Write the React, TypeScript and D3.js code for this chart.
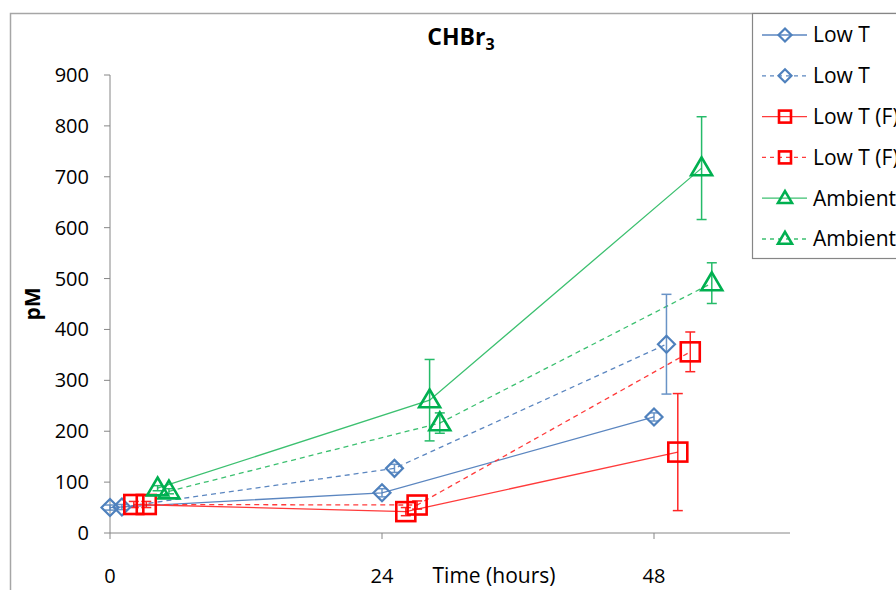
import React from "react";
import * as d3 from "d3";

const W = 896;
const H = 590;

const title = "CHBr";
const titleSub = "3";
const yLabel = "pM";
const xLabel = "Time (hours)";
const xTicks = [0, 24, 48];
const yTicks = [0, 100, 200, 300, 400, 500, 600, 700, 800, 900];

const seriesNames = ["Low T", "Low T", "Low T (F)", "Low T (F)", "Ambient", "Ambient"];
const seriesColors = ["#4F81BD", "#4F81BD", "#FF0000", "#FF0000", "#00B050", "#00B050"];
const lineColors = ["#5B86C0", "#5B86C0", "#FF3B3B", "#FF3B3B", "#3CC070", "#3CC070"];
const seriesDashed = [false, true, false, true, false, true];
const seriesMarkers = ["diamond", "diamond", "square", "square", "triangle", "triangle"];

const xLowT = [0, 24, 48];
const yLowT = [50, 79, 228];
const eLowT = [5, 8, 8];

const xLowTDash = [1.05, 25.1, 49.1];
const yLowTDash = [51, 127, 371];
const eLowTDash = [5, 8, 98];

const xLowTF = [2.1, 26.1, 50.1];
const yLowTF = [56, 42, 159];
const eLowTF = [6, 8, 115];

const xLowTFDash = [3.2, 27.1, 51.2];
const yLowTFDash = [56, 55, 356];
const eLowTFDash = [6, 8, 39];

const xAmb = [4.2, 28.2, 52.2];
const yAmb = [88, 261, 717];
const eAmb = [5, 80, 101];

const xAmbDash = [5.2, 29.1, 53.1];
const yAmbDash = [82, 216, 491];
const eAmbDash = [5, 20, 40];

const seriesX = [xLowT, xLowTDash, xLowTF, xLowTFDash, xAmb, xAmbDash];
const seriesY = [yLowT, yLowTDash, yLowTF, yLowTFDash, yAmb, yAmbDash];
const seriesE = [eLowT, eLowTDash, eLowTF, eLowTFDash, eAmb, eAmbDash];

const FONT = "'Open Sans', Lato, sans-serif";

function Marker({ type, x, y, color, size }: { type: string; x: number; y: number; color: string; size: number }) {
  if (type === "diamond") {
    const r = size / 2;
    return (
      <path
        d={`M${x},${y - r}L${x + r},${y}L${x},${y + r}L${x - r},${y}Z`}
        fill="none"
        stroke={color}
        strokeWidth={2.2}
      />
    );
  }
  if (type === "square") {
    const s = size;
    return <rect x={x - s / 2} y={y - s / 2} width={s} height={s} fill="none" stroke={color} strokeWidth={2.6} />;
  }
  const w = size;
  const h = size * 0.85;
  return (
    <path
      d={`M${x},${y - h * 0.6}L${x + w / 2},${y + h * 0.4}L${x - w / 2},${y + h * 0.4}Z`}
      fill="none"
      stroke={color}
      strokeWidth={2.6}
    />
  );
}

export default function App() {
  const x = d3.scaleLinear().domain([0, 60]).range([110, 790]);
  const y = d3.scaleLinear().domain([0, 900]).range([533, 75]);
  const line = d3
    .line<[number, number]>()
    .x((d) => x(d[0]))
    .y((d) => y(d[1]));

  const markerSize = (t: string) => (t === "diamond" ? 17 : t === "square" ? 19 : 21);
  const legendMarkerSize = (t: string) => (t === "diamond" ? 13 : t === "square" ? 12 : 14);

  return (
    <svg
      width={W}
      height={H}
      style={{ position: "absolute", left: 0, top: 0, background: "#fff" }}
      fontFamily={FONT}
    >
      <rect x={0} y={0} width={W} height={H} fill="#fff" />
      {/* outer chart border */}
      <path d={`M10.5,${H}L10.5,13.5L${W},13.5`} fill="none" stroke="#A6A6A6" strokeWidth={1.5} />

      {/* title */}
      <text x={461} y={45} fontSize={23} fontWeight="bold" textAnchor="middle" fill="#000">
        {title}
        <tspan fontSize={16} dy={5}>
          {titleSub}
        </tspan>
      </text>

      {/* y axis */}
      <line x1={110} x2={110} y1={y(900)} y2={y(0)} stroke="#868686" strokeWidth={1} />
      {yTicks.map((t) => (
        <g key={t}>
          <line x1={104} x2={110} y1={y(t)} y2={y(t)} stroke="#868686" />
          <text x={89} y={y(t)} dy="0.35em" textAnchor="end" fontSize={20} fill="#000">
            {t}
          </text>
        </g>
      ))}
      <text
        transform={`translate(40,${(y(0) + y(900)) / 2}) rotate(-90)`}
        textAnchor="middle"
        fontSize={21}
        fontWeight="bold"
        fill="#000"
      >
        {yLabel}
      </text>

      {/* x axis */}
      <line x1={110} x2={790} y1={y(0)} y2={y(0)} stroke="#868686" strokeWidth={1} />
      {xTicks.map((t) => (
        <g key={t}>
          <line x1={x(t)} x2={x(t)} y1={y(0)} y2={y(0) + 6} stroke="#868686" />
          <text x={x(t)} y={583} textAnchor="middle" fontSize={20} fill="#000">
            {t}
          </text>
        </g>
      ))}
      <text x={494} y={583} textAnchor="middle" fontSize={21} fill="#000">
        {xLabel}
      </text>

      {/* lines */}
      {seriesX.map((xs, i) => {
        const pts: [number, number][] = xs.map((v, j) => [v, seriesY[i][j]]);
        return (
          <path
            key={"l" + i}
            d={line(pts) || ""}
            fill="none"
            stroke={lineColors[i]}
            strokeWidth={1.3}
            strokeDasharray={seriesDashed[i] ? "5,4" : undefined}
          />
        );
      })}

      {/* error bars */}
      {seriesX.map((xs, i) =>
        xs.map((v, j) => {
          const cx = x(v);
          const top = y(seriesY[i][j] + seriesE[i][j]);
          const bot = y(seriesY[i][j] - seriesE[i][j]);
          return (
            <g key={`e${i}-${j}`} stroke={seriesColors[i]} strokeWidth={1.5} opacity={0.85}>
              <line x1={cx} x2={cx} y1={top} y2={bot} />
              <line x1={cx - 5} x2={cx + 5} y1={top} y2={top} />
              <line x1={cx - 5} x2={cx + 5} y1={bot} y2={bot} />
            </g>
          );
        })
      )}

      {/* markers */}
      {seriesX.map((xs, i) =>
        xs.map((v, j) => (
          <Marker
            key={`m${i}-${j}`}
            type={seriesMarkers[i]}
            x={x(v)}
            y={y(seriesY[i][j])}
            color={seriesColors[i]}
            size={markerSize(seriesMarkers[i])}
          />
        ))
      )}

      {/* legend */}
      <rect x={752.5} y={13.5} width={200} height={245} fill="#fff" stroke="#868686" strokeWidth={1.2} />
      {seriesNames.map((name, i) => {
        const ly = 35 + i * 40.8;
        return (
          <g key={"lg" + i}>
            <line
              x1={762}
              x2={807}
              y1={ly}
              y2={ly}
              stroke={lineColors[i]}
              strokeWidth={1.3}
              strokeDasharray={seriesDashed[i] ? "4,4" : undefined}
            />
            <Marker type={seriesMarkers[i]} x={785} y={ly} color={seriesColors[i]} size={legendMarkerSize(seriesMarkers[i])} />
            <text x={813} y={ly} dy="0.35em" fontSize={21} fill="#000">
              {name}
            </text>
          </g>
        );
      })}
    </svg>
  );
}
